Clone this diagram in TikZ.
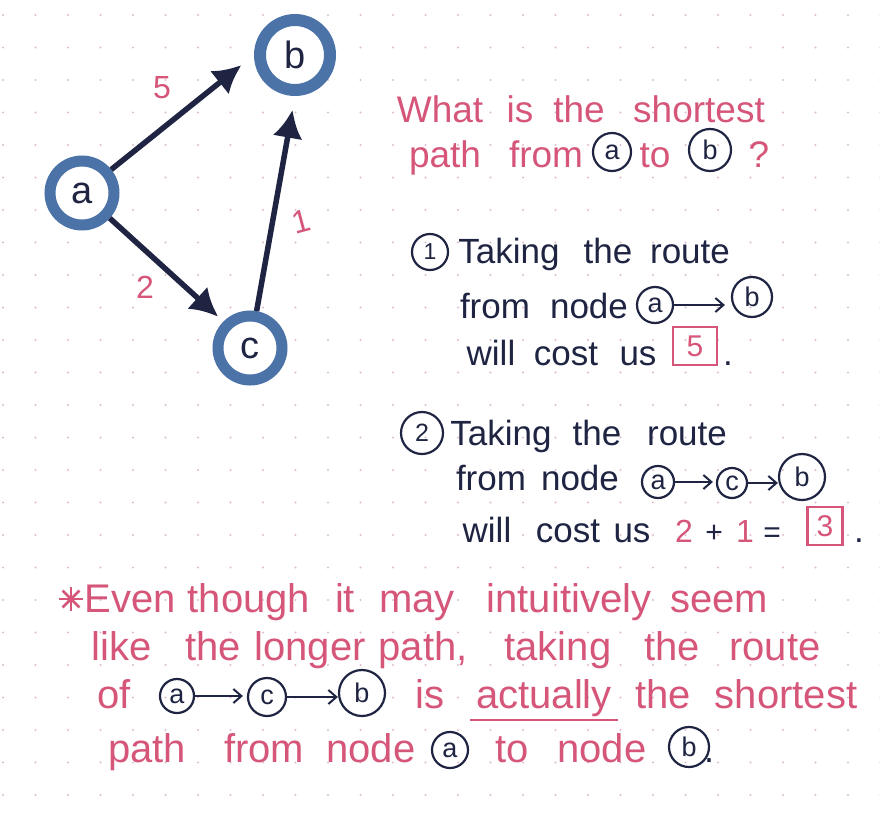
\documentclass[tikz,border=0pt]{standalone}
\usepackage{fontspec}
\setmainfont{Liberation Sans}
\usetikzlibrary{arrows.meta}
\definecolor{pk}{RGB}{214,86,122}
\definecolor{nv}{RGB}{30,36,66}
\definecolor{rb}{RGB}{75,115,168}
\definecolor{gd}{RGB}{222,190,204}
\newcommand\fsz[1]{\fontsize{#1}{#1}\selectfont}
\begin{document}
\begin{tikzpicture}[x=1pt,y=-1pt,
  pw/.style={text=pk,font=\fsz{37},anchor=base,inner sep=0pt},
  nw/.style={text=nv,font=\fsz{35},anchor=base,inner sep=0pt},
  bw/.style={text=pk,font=\fsz{40},anchor=base,inner sep=0pt},
  gnode/.style={circle,draw=rb,line width=11pt,fill=white,minimum size=64pt,inner sep=0pt,text=nv,font=\fsz{38}},
  gedge/.style={draw=nv,line width=5.5pt,-{Latex[length=28pt,width=30pt]}},
  wlab/.style={text=pk,font=\fsz{32},inner sep=0pt},
  ic/.style={circle,draw=nv,line width=2.2pt,inner sep=0pt,text=nv,font=\fsz{27}},
  iarr/.style={draw=nv,line width=2pt,-{Straight Barb[length=8pt,width=14pt]}},
  pbox/.style={draw=pk,line width=2.5pt,text=pk,font=\fsz{30},inner sep=0pt},
]
\useasboundingbox (0,0) rectangle (880,822);
\fill[white] (0,0) rectangle (880,822);
\foreach \i in {0,...,27} \foreach \j in {0,...,25}
  \fill[gd] (3+32.5*\i,15+32.5*\j) circle (1.1pt);

% graph
\node[gnode] (a) at (82,193) {a};
\node[gnode,minimum size=70pt,line width=12pt] (b) at (295,55) {b};
\node[gnode] (c) at (250,348) {c};
\draw[gedge,shorten >=16pt] (a) -- (b.west);
\draw[gedge,shorten >=7pt] (a) -- (c.north west);
\draw[gedge,shorten >=14pt] (c) -- (b.south);
\node[wlab] (w5) at (162,88) {5};
\node[wlab] (w2) at (145,287) {2};
\node[wlab,rotate=15] (w1) at (301,222) {1};

% question
\node[pw] (q1) at (440,122) {What};
\node[pw] (q2) at (520,122) {is};
\node[pw] (q3) at (579,122) {the};
\node[pw] (q4) at (699,122) {shortest};
\node[pw] (q5) at (445,167) {path};
\node[pw] (q6) at (546,167) {from};
\node[ic,minimum size=38pt] (qa) at (612,152) {a};
\node[pw] (q7) at (655,167) {to};
\node[ic,minimum size=42pt] (qb) at (710,150) {b};
\node[pw] (q8) at (759,167) {?};

% item 1
\node[ic,minimum size=36pt,font=\fsz{23}] (n1) at (430,252) {1};
\node[nw] (t1) at (509,263) {Taking};
\node[nw] (t2) at (608,263) {the};
\node[nw] (t3) at (690,263) {route};
\node[nw] (t4) at (495,318) {from};
\node[nw] (t5) at (589,318) {node};
\node[ic,minimum size=36pt] (ia1) at (655,305) {a};
\node[ic,minimum size=40pt] (ib1) at (752,297) {b};
\draw[iarr,shorten >=6pt] (ia1.east) -- (ia1.east -| ib1.west);
\node[nw] (t6) at (491,365) {will};
\node[nw] (t7) at (566,365) {cost};
\node[nw] (t8) at (638,365) {us};
\node[pbox,minimum width=44pt,minimum height=38pt] (box5) at (695,346) {5};
\node[nw] (t9) at (728,365) {.};

% item 2
\node[ic,minimum size=42pt,font=\fsz{25}] (n2) at (422,433) {2};
\node[nw] (s1) at (501,445) {Taking};
\node[nw] (s2) at (597,445) {the};
\node[nw] (s3) at (687,445) {route};
\node[nw] (s4) at (491,490) {from};
\node[nw] (s5) at (580,490) {node};
\node[ic,minimum size=32pt] (ia2) at (658,482) {a};
\node[ic,minimum size=30pt] (ic2) at (732,483) {c};
\node[ic,minimum size=46pt] (ib2) at (802,477) {b};
\draw[iarr,shorten >=3pt] (ia2.east) -- (ia2.east -| ic2.west);
\draw[iarr] (ic2.east) -- (ic2.east -| ib2.west);
\node[nw] (s6) at (487,542) {will};
\node[nw] (s7) at (568,542) {cost};
\node[nw] (s8) at (632,542) {us};
\node[nw,text=pk,font=\fsz{32}] (s9) at (684,542) {2};
\node[nw,font=\fsz{30}] (s10) at (714,542) {+};
\node[nw,text=pk,font=\fsz{32}] (s11) at (745,542) {1};
\node[nw,font=\fsz{30}] (s12) at (772,542) {=};
\node[pbox,minimum width=35pt,minimum height=38pt] (box3) at (825,526) {3};
\node[nw] (s13) at (859,542) {.};

% note
\foreach \ang in {0,45,90,135}
  \draw[draw=pk,line width=2.6pt] (71,599) ++(\ang:12) -- ++(\ang+180:24);
\node[bw] (e1) at (130,612) {Even};
\node[bw] (e2) at (249,612) {though};
\node[bw] (e3) at (345,612) {it};
\node[bw] (e4) at (417,612) {may};
\node[bw] (e5) at (569,612) {intuitively};
\node[bw] (e6) at (719,612) {seem};
\node[bw] (f1) at (122,660) {like};
\node[bw] (f2) at (213,660) {the};
\node[bw] (f3) at (310,660) {longer};
\node[bw] (f4) at (423,660) {path,};
\node[bw] (f5) at (558,660) {taking};
\node[bw] (f6) at (672,660) {the};
\node[bw] (f7) at (775,660) {route};
\node[bw] (g1) at (114,708) {of};
\node[ic,minimum size=34pt] (ga) at (177,696) {a};
\node[ic,minimum size=38pt] (gc) at (267,697) {c};
\node[ic,minimum size=46pt] (gb) at (362,693) {b};
\draw[iarr,shorten >=4pt] (ga.east) -- (ga.east -| gc.west);
\draw[iarr] (gc.east) -- (gc.east -| gb.west);
\node[bw] (g2) at (430,708) {is};
\node[bw] (act) at (544,708) {actually};
\draw[draw=pk,line width=2.4pt] ([shift={(-6pt,-12pt)}]act.base west) -- ([shift={(6pt,-12pt)}]act.base east);
\node[bw] (g3) at (663,708) {the};
\node[bw] (g4) at (786,708) {shortest};
\node[bw] (h1) at (147,762) {path};
\node[bw] (h2) at (264,762) {from};
\node[bw] (h3) at (371,762) {node};
\node[ic,minimum size=36pt] (ha) at (450,750) {a};
\node[bw] (h4) at (512,762) {to};
\node[bw] (h5) at (602,762) {node};
\node[ic,minimum size=40pt] (hb) at (689,747) {b};
\node[nw,font=\fsz{36}] (h6) at (709,762) {.};
\end{tikzpicture}
\end{document}
